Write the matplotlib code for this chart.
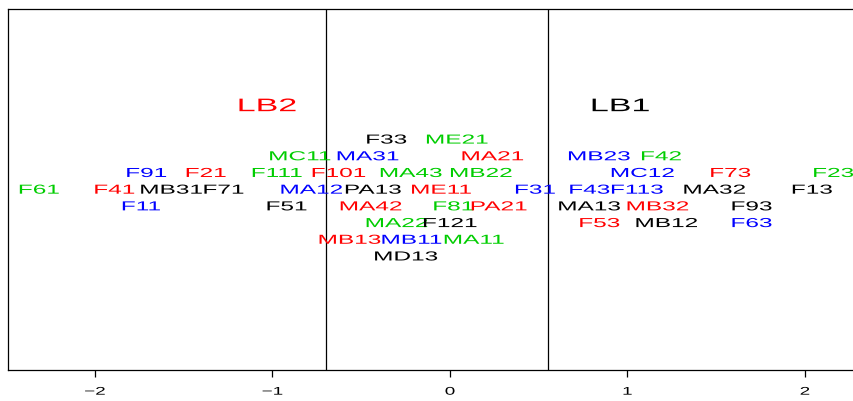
import matplotlib
matplotlib.use('Agg')
import matplotlib.pyplot as plt
from matplotlib.patheffects import AbstractPathEffect
from matplotlib.transforms import Affine2D

plt.rcParams['font.family'] = ['Liberation Sans', 'DejaVu Sans']

# label positions (x on the axis, y as row level)
labels = ['F61', 'F41', 'MB31', 'F71', 'F91', 'F21', 'F111', 'MC11', 'F11', 'F51', 'MA12',
          'F33', 'ME21', 'MA31', 'MA21', 'F101', 'MA43', 'MB22', 'PA13', 'ME11', 'F31',
          'MA42', 'F81', 'PA21', 'MA22', 'F121', 'MB13', 'MB11', 'MA11', 'MD13',
          'MB23', 'F42', 'MC12', 'F73', 'F23', 'F43', 'F113', 'MA32', 'F13',
          'MA13', 'MB32', 'F93', 'F53', 'MB12', 'F63']
xpos = [-2.315, -1.89, -1.57, -1.275, -1.71, -1.375, -0.975, -0.845, -1.74, -0.92, -0.78,
        -0.358, 0.04, -0.463, 0.24, -0.627, -0.22, 0.175, -0.434, -0.049, 0.48,
        -0.446, 0.02, 0.275, -0.30, 0.0, -0.565, -0.216, 0.135, -0.248,
        0.84, 1.19, 1.085, 1.58, 2.16, 0.786, 1.054, 1.49, 2.04,
        0.785, 1.17, 1.70, 0.842, 1.22, 1.70]
ypos = [4, 4, 4, 4, 5, 5, 5, 6, 3, 3, 4,
        7, 7, 6, 6, 5, 5, 5, 4, 4, 4,
        3, 3, 3, 2, 2, 1, 1, 1, 0,
        6, 6, 5, 5, 5, 4, 4, 4, 4,
        3, 3, 3, 2, 2, 2]
cols = ['g', 'r', 'k', 'k', 'b', 'r', 'g', 'g', 'b', 'k', 'b',
        'k', 'g', 'b', 'r', 'r', 'g', 'g', 'k', 'r', 'b',
        'r', 'g', 'r', 'g', 'k', 'r', 'b', 'g', 'k',
        'b', 'g', 'b', 'r', 'g', 'b', 'b', 'k', 'k',
        'k', 'r', 'k', 'r', 'k', 'b']

groups = ['LB2', 'LB1']
group_x = [-1.03, 0.96]
group_y = [9.06, 9.06]
group_cols = ['r', 'k']

cuts = [-0.70, 0.55]
ticks = [-2, -1, 0, 1, 2]

palette = {'r': '#FF0000', 'g': '#00CD00', 'b': '#0000FF', 'k': '#000000'}


class Stretch(AbstractPathEffect):
    # widen glyphs horizontally around their centre
    def __init__(self, sx):
        super().__init__()
        self.sx = sx

    def draw_path(self, renderer, gc, tpath, affine, rgbFace=None):
        ext = tpath.get_extents()
        cx = (ext.x0 + ext.x1) / 2
        t = Affine2D().translate(-cx, 0).scale(self.sx, 1).translate(cx, 0) + affine
        renderer.draw_path(gc, tpath, t, rgbFace)


fig = plt.figure(figsize=(8.54, 4.01), dpi=100)
ax = fig.add_axes([8 / 854, 31 / 401, 852 / 854, 361.5 / 401])

for lab, x, y, c in zip(labels, xpos, ypos, cols):
    ax.text(x, y, lab, color=palette[c], fontsize=9.4, ha='center', va='center_baseline',
            path_effects=[Stretch(1.87)])

for lab, x, y, c in zip(groups, group_x, group_y, group_cols):
    ax.text(x, y, lab, color=palette[c], fontsize=13.1, ha='center', va='center_baseline',
            path_effects=[Stretch(1.87)])

for c in cuts:
    ax.axvline(c, color='black', lw=0.9)

ax.set_xlim(-2.490, 2.310)
ax.set_ylim(-6.83, 14.82)
ax.set_yticks([])
ax.set_xticks(ticks)
ax.tick_params(axis='x', length=5, width=0.9, pad=7, labelsize=8)
for t in ax.get_xticklabels():
    t.set_path_effects([Stretch(1.7)])
ax.spines['right'].set_visible(False)
for s in ['left', 'top', 'bottom']:
    ax.spines[s].set_linewidth(0.9)

plt.savefig('out.png', dpi=100)
